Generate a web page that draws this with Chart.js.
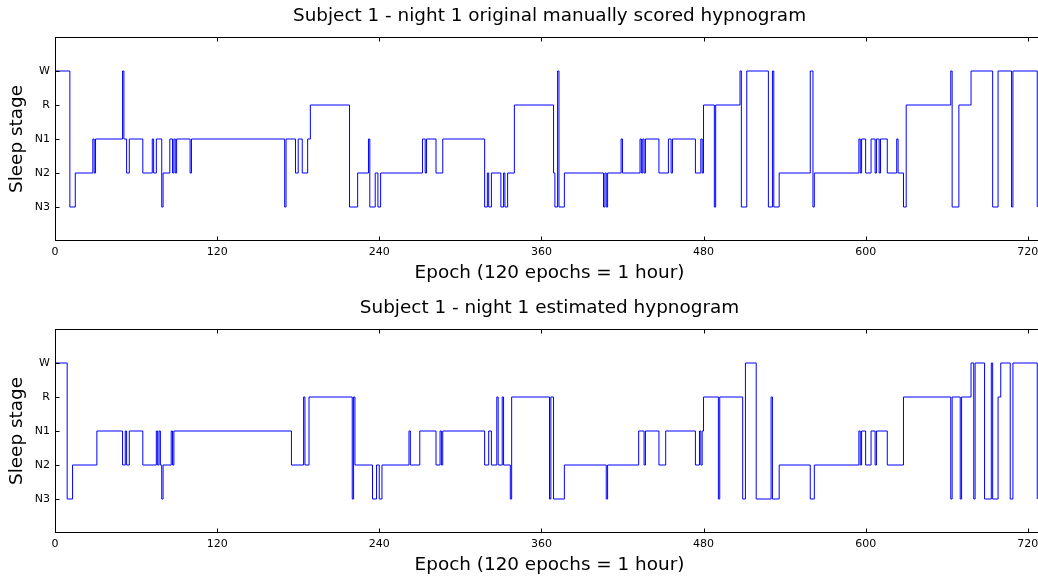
<!DOCTYPE html>
<html>
<head>
<meta charset="utf-8">
<script src="https://cdn.jsdelivr.net/npm/chart.js@4.4.1/dist/chart.umd.min.js"></script>
<style>
  html, body { margin: 0; padding: 0; background: #fff; overflow: hidden; width: 1038px; height: 576px; }
  #wrap1 { position: absolute; left: 0; top: 0; }
  #wrap2 { position: absolute; left: 0; top: 292px; }
</style>
</head>
<body>
<div id="wrap1"><canvas id="hypnoOrig" width="1046" height="290"></canvas></div>
<div id="wrap2"><canvas id="hypnoEst" width="1046" height="290"></canvas></div>
<script>
// sleep stages, bottom to top
var stageNames = ['N3', 'N2', 'N1', 'R', 'W'];
var xTicks = [0, 120, 240, 360, 480, 600, 720];
var nEpochs = 727;   // recording length
var xMax = 732;      // axis limit (right edge falls just outside the picture)

// original manually scored hypnogram: epoch where a stage starts + the stage
var origEpochs = [0, 11, 15, 28, 29, 30, 50, 51, 53, 55, 65, 72, 73, 75, 79, 80, 85, 87, 88, 89, 90, 100, 101,
    170, 171, 178, 180, 183, 187, 189, 218, 224, 232, 233, 237, 239, 241, 272, 274, 275, 282, 287,
    318, 320, 321, 323, 330, 332, 333, 335, 340, 369, 370, 372, 373, 377, 406, 407, 408, 409, 419, 420,
    433, 434, 435, 436, 437, 447, 454, 456, 457, 474, 478, 479, 480, 488, 489, 507, 508, 512, 528, 531, 532, 536,
    559, 561, 562, 595, 596, 597, 600, 604, 607, 608, 610, 611, 616, 623, 624, 628, 630,
    663, 664, 669, 678, 694, 698, 708, 709, 727];
var origStages = ['W', 'N3', 'N2', 'N1', 'N2', 'N1', 'W', 'N1', 'N2', 'N1', 'N2', 'N1', 'N2', 'N1', 'N3', 'N2', 'N1', 'N2', 'N1', 'N2', 'N1', 'N2', 'N1',
    'N3', 'N1', 'N2', 'N1', 'N2', 'N1', 'R', 'N3', 'N2', 'N1', 'N3', 'N2', 'N3', 'N2', 'N1', 'N2', 'N1', 'N2', 'N1',
    'N3', 'N2', 'N3', 'N2', 'N3', 'N2', 'N3', 'N2', 'R', 'N2', 'N3', 'W', 'N3', 'N2', 'N3', 'N2', 'N3', 'N2', 'N1', 'N2',
    'N1', 'N2', 'N1', 'N2', 'N1', 'N2', 'N1', 'N2', 'N1', 'N2', 'N1', 'N2', 'R', 'N3', 'R', 'W', 'N3', 'W', 'N3', 'W', 'N3', 'N2',
    'W', 'N3', 'N2', 'N1', 'N2', 'N1', 'N2', 'N1', 'N2', 'N1', 'N2', 'N1', 'N2', 'N1', 'N2', 'N3', 'R',
    'W', 'N3', 'R', 'W', 'N3', 'W', 'N3', 'W', 'N3'];

// estimated hypnogram
var estEpochs = [0, 9, 13, 31, 50, 52, 53, 55, 65, 75, 76, 77, 78, 79, 80, 86, 87, 88,
    175, 184, 185, 188, 220, 221, 222, 235, 238, 240, 242, 262, 263, 270, 282, 285, 286, 287,
    318, 321, 323, 327, 328, 331, 332, 337, 338, 366, 367, 369, 377, 408, 409,
    432, 436, 437, 447, 452, 474, 477, 478, 479, 480, 491, 492, 509, 511, 519, 530, 531, 536,
    559, 562, 595, 596, 597, 600, 604, 607, 608, 616, 628,
    663, 664, 670, 671, 678, 680, 681, 688, 693, 694, 698, 700, 707, 709, 727];
var estStages = ['W', 'N3', 'N2', 'N1', 'N2', 'N1', 'N2', 'N1', 'N2', 'N1', 'N2', 'N1', 'N2', 'N3', 'N2', 'N1', 'N2', 'N1',
    'N2', 'R', 'N2', 'R', 'N3', 'R', 'N2', 'N3', 'N2', 'N3', 'N2', 'N1', 'N2', 'N1', 'N2', 'N1', 'N2', 'N1',
    'N2', 'N1', 'N2', 'R', 'N2', 'R', 'N2', 'N3', 'R', 'N3', 'R', 'N3', 'N2', 'N3', 'N2',
    'N1', 'N2', 'N1', 'N2', 'N1', 'N2', 'N1', 'N2', 'N1', 'R', 'N3', 'R', 'N3', 'W', 'N3', 'R', 'N3', 'N2',
    'N3', 'N2', 'N1', 'N2', 'N1', 'N2', 'N1', 'N2', 'N1', 'N2', 'R',
    'N3', 'R', 'N3', 'R', 'W', 'N3', 'W', 'N3', 'W', 'N3', 'R', 'W', 'N3', 'W', 'N3'];

var FONT = "'DejaVu Sans', sans-serif";

// turn the change points into {x, y} points for a stepped line
function buildPoints(epochs, stages) {
    var pts = epochs.map(function (e, i) {
        return { x: e, y: stageNames.indexOf(stages[i]) };
    });
    if (epochs[epochs.length - 1] < nEpochs) {
        pts.push({ x: nEpochs, y: stageNames.indexOf(stages[stages.length - 1]) });
    }
    return pts;
}

// box around the plot, inward ticks on every side, title centred over the plot
var framePlugin = {
    id: 'frame',
    afterDatasetsDraw: function (chart) {
        var ctx = chart.ctx;
        var a = chart.chartArea;
        var xs = chart.scales.x, ys = chart.scales.y;
        var L = Math.round(a.left) + 0.5, R = Math.round(a.right) - 0.5;
        var T = Math.round(a.top) + 0.5, B = Math.round(a.bottom) - 0.5;
        ctx.save();
        ctx.strokeStyle = '#000';
        ctx.lineWidth = 1;
        ctx.strokeRect(L, T, R - L, B - T);
        ctx.beginPath();
        xTicks.forEach(function (t) {
            var px = Math.round(xs.getPixelForValue(t)) + 0.5;
            ctx.moveTo(px, B); ctx.lineTo(px, B - 4);
            ctx.moveTo(px, T); ctx.lineTo(px, T + 4);
        });
        stageNames.forEach(function (s, i) {
            var py = Math.round(ys.getPixelForValue(i)) + 0.5;
            ctx.moveTo(L, py); ctx.lineTo(L + 4, py);
            ctx.moveTo(R, py); ctx.lineTo(R - 4, py);
        });
        ctx.stroke();

        // chart title
        ctx.fillStyle = '#000';
        ctx.font = '18.4px ' + FONT;
        ctx.textAlign = 'center';
        ctx.textBaseline = 'middle';
        ctx.fillText(chart.options.plugins.frame.title, (a.left + a.right) / 2, 16);
        ctx.restore();
    }
};

function makeChart(canvasId, titleText, epochs, stages) {
    var ctx = document.getElementById(canvasId).getContext('2d');
    return new Chart(ctx, {
        type: 'line',
        data: {
            datasets: [{
                data: buildPoints(epochs, stages),
                stepped: 'before',
                borderColor: '#0000ff',
                borderWidth: 1,
                pointRadius: 0,
                fill: false
            }]
        },
        options: {
            responsive: false,
            animation: false,
            devicePixelRatio: 1,
            layout: { padding: { left: 0, right: 2, top: 37, bottom: 0 } },
            plugins: {
                legend: { display: false },
                tooltip: { enabled: false },
                title: { display: false },
                frame: { title: titleText }
            },
            scales: {
                x: {
                    type: 'linear',
                    min: 0,
                    max: xMax,
                    afterBuildTicks: function (scale) {
                        scale.ticks = xTicks.map(function (v) { return { value: v }; });
                    },
                    afterFit: function (scale) { scale.height = 49; },
                    grid: { display: false, drawTicks: false },
                    border: { display: false },
                    ticks: {
                        autoSkip: false,
                        maxRotation: 0,
                        padding: 4.4,
                        color: '#000',
                        font: { family: FONT, size: 11 }
                    },
                    title: {
                        display: true,
                        text: 'Epoch (120 epochs = 1 hour)',
                        color: '#000',
                        font: { family: FONT, size: 18.4 },
                        padding: { top: 0, bottom: 6 }
                    }
                },
                y: {
                    type: 'linear',
                    min: -1,
                    max: 5,
                    afterBuildTicks: function (scale) {
                        scale.ticks = stageNames.map(function (s, i) { return { value: i }; });
                    },
                    afterFit: function (scale) { scale.width = 55; },
                    grid: { display: false, drawTicks: false },
                    border: { display: false },
                    ticks: {
                        padding: 5,
                        color: '#000',
                        font: { family: FONT, size: 11 },
                        callback: function (v) { return stageNames[v]; }
                    },
                    title: {
                        display: true,
                        text: 'Sleep stage',
                        color: '#000',
                        font: { family: FONT, size: 18.4 },
                        padding: { top: 6, bottom: 0 }
                    }
                }
            }
        },
        plugins: [framePlugin]
    });
}

makeChart('hypnoOrig', 'Subject 1 - night 1 original manually scored hypnogram', origEpochs, origStages);
makeChart('hypnoEst', 'Subject 1 - night 1 estimated hypnogram', estEpochs, estStages);
</script>
</body>
</html>
